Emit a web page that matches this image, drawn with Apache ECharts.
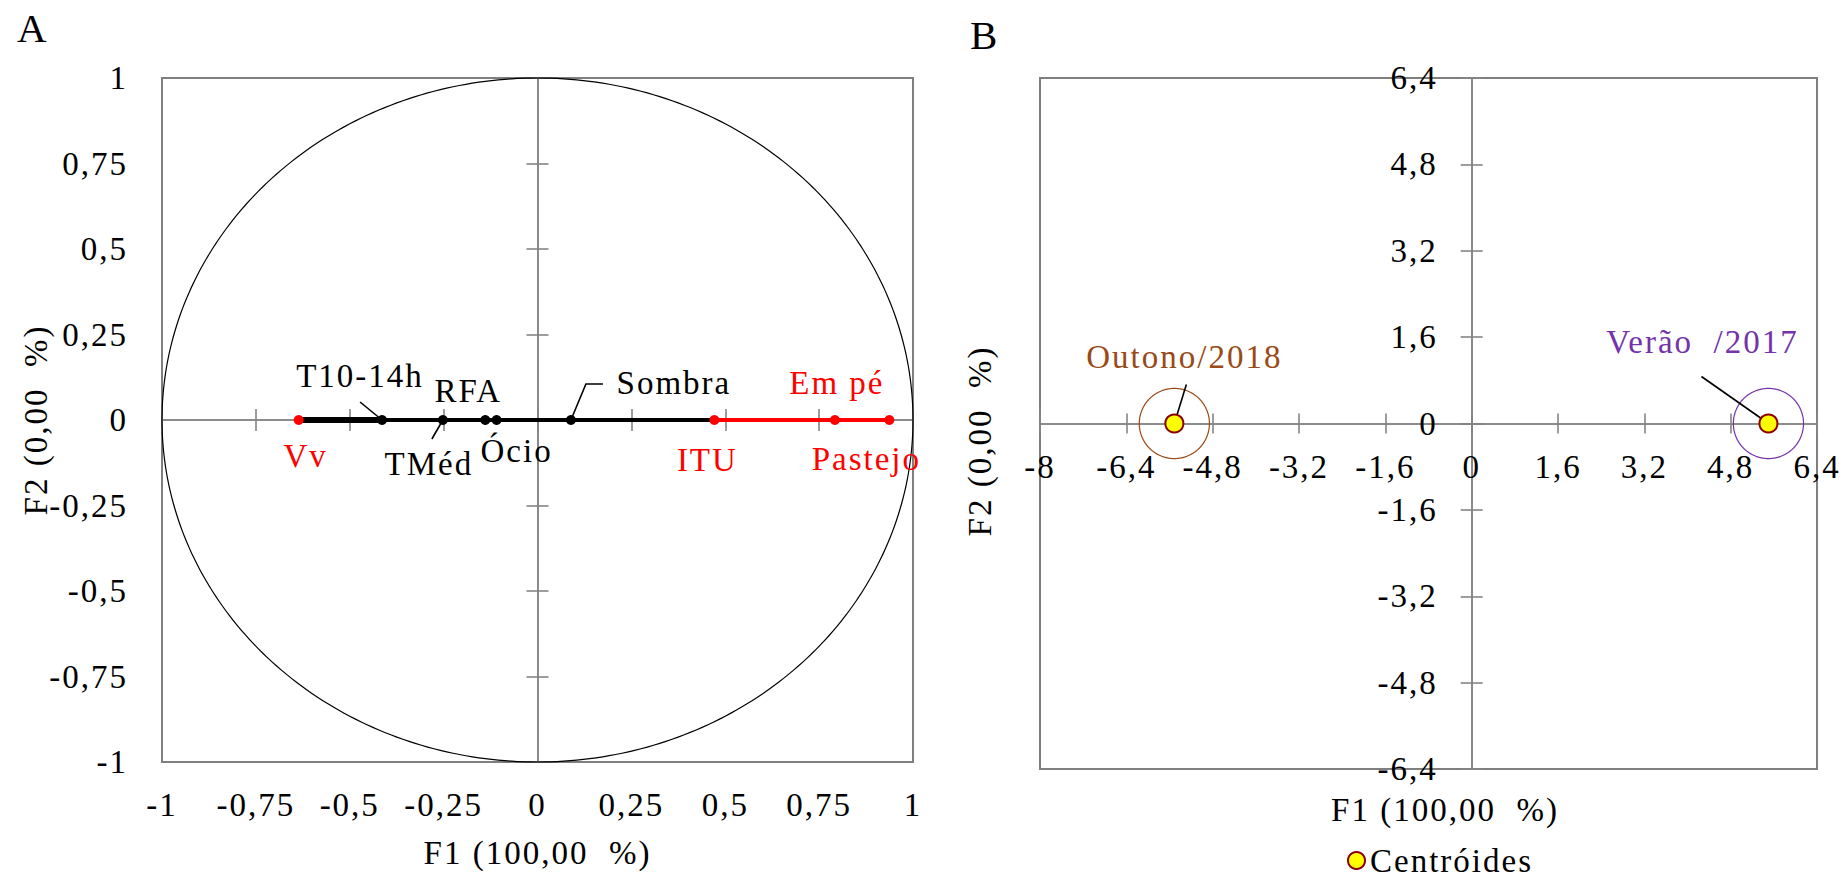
<!DOCTYPE html>
<html>
<head>
<meta charset="utf-8">
<title>ACP – F1 x F2</title>
<script src="https://cdn.jsdelivr.net/npm/echarts@6/dist/echarts.min.js"></script>
<style>
  html, body { margin: 0; padding: 0; background: #fff; }
  #chart { width: 1844px; height: 878px; }
  /* texto levemente espaçado, como na figura original em Times */
  #chart svg text { letter-spacing: 2px; }
</style>
</head>
<body>
<div id="chart"></div>
<script>
// ---------- Painel A: círculo de correlações ----------
const variaveis = ['Vv', 'T10-14h', 'TMéd', 'RFA', 'Ócio', 'Sombra', 'ITU', 'Em pé', 'Pastejo'];
const cargaF1   = [-0.636, -0.414, -0.252, -0.139, -0.109, 0.089, 0.471, 0.792, 0.937];
const cargaF2   = [0, 0, 0, 0, 0, 0, 0, 0, 0];
const ativa     = [true, false, false, false, false, false, true, true, true];
const raioCirculo = 1;
const ticksA = [-1, -0.75, -0.5, -0.25, 0, 0.25, 0.5, 0.75, 1];

// ---------- Painel B: centróides das estações ----------
const grupos     = ['Outono/2018', 'Verão  /2017'];
const centroF1   = [-5.51, 5.50];
const centroF2   = [0, 0];
const raioConf   = [0.65, 0.65];
const ticksBx = [-8, -6.4, -4.8, -3.2, -1.6, 0, 1.6, 3.2, 4.8, 6.4];
const ticksBy = [-6.4, -4.8, -3.2, -1.6, 0, 1.6, 3.2, 4.8, 6.4];

// ---------- estilo ----------
const SERIF = '"Liberation Serif", "Times New Roman", serif';
const FS = 33;
const CINZA = '#858585';
const VERMELHO = '#ff0000';
const corGrupo = ['#994a17', '#7433a8'];

// deslocamento (px) de cada rótulo em relação ao seu ponto
const rotuloA = {
  'Vv': [7, 36], 'T10-14h': [-22, -44], 'TMéd': [-14, 44], 'RFA': [-17, -29],
  'Ócio': [20, 31], 'Sombra': [103, -37], 'ITU': [-7, 40], 'Em pé': [2, -37], 'Pastejo': [-23, 39]
};
const rotuloB = { 'Outono/2018': [10, -67], 'Verão  /2017': [-66, -82] };
// linhas de chamada: vértices (px) relativos ao ponto
const guiaA = {
  'T10-14h': [[-22, -18], [0, 0]],
  'TMéd': [[-11, 19], [0, 0]],
  'Sombra': [[32, -36], [15, -36], [0, 0]]
};
const guiaB = {
  'Outono/2018': [[12, -39], [0, 0]],
  'Verão  /2017': [[-67, -47], [0, 0]]
};

// área de plotagem de cada painel
const areaA = { left: 162, top: 78, width: 751, height: 684 };
const areaB = { left: 1040, top: 78, width: 777, height: 691 };

const ultimo = t => t[t.length - 1];
const passo = t => +(t[1] - t[0]).toFixed(6);
const fmt = v => String(+(+v).toFixed(4)).replace('.', ',');
const texto = (extra) => Object.assign({ fontFamily: SERIF, fontSize: FS, color: '#000' }, extra || {});

function eixo(gridIndex, ticks, cfg) {
  return Object.assign({
    type: 'value', gridIndex,
    min: ticks[0], max: ultimo(ticks), interval: passo(ticks),
    splitLine: { show: false },
    axisLabel: { show: false },
    axisTick: { show: false },
    axisLine: { show: false, onZero: false },
    nameMoveOverlap: false
  }, cfg);
}
// eixo que passa pela origem do outro eixo
const linhaCruz = { show: true, onZero: true, lineStyle: { color: CINZA, width: 1.6 } };
const tique = (inside, len) => ({ show: true, inside, length: len, lineStyle: { color: CINZA, width: 1.6 } });
const rotulosEixo = (margin) => Object.assign({ show: true, margin, formatter: fmt }, texto());

// No painel B os rótulos ficam junto aos eixos que passam pela origem:
// usa-se uma grade auxiliar cuja borda coincide com o zero de cada eixo.
const fracY0 = ultimo(ticksBy) / (ultimo(ticksBy) - ticksBy[0]);
const fracX0 = (0 - ticksBx[0]) / (ultimo(ticksBx) - ticksBx[0]);
const gradeRotX = { left: areaB.left, top: areaB.top, width: areaB.width, height: areaB.height * fracY0 };
const gradeRotY = { left: areaB.left + areaB.width * fracX0, top: areaB.top,
  width: areaB.width * (1 - fracX0), height: areaB.height };
const metadeX = ticksBx.filter(v => v >= 0);
const metadeY = ticksBy.filter(v => v >= 0);

const xAxis = [
  // 0: rótulos e título do painel A (na borda inferior)
  eixo(0, ticksA, { position: 'bottom', axisLabel: rotulosEixo(26),
    name: 'F1 (100,00  %)', nameLocation: 'middle', nameGap: 74, nameTextStyle: texto() }),
  // 1-2: eixo horizontal cruzando a origem (A)
  eixo(0, ticksA, { position: 'bottom', axisLine: linhaCruz, axisTick: tique(false, 11) }),
  eixo(0, ticksA, { position: 'bottom', axisLine: linhaCruz, axisTick: tique(true, 11) }),
  // 3-4: eixo horizontal cruzando a origem (B)
  eixo(1, ticksBx, { position: 'bottom', axisLine: linhaCruz, axisTick: tique(false, 10) }),
  eixo(1, ticksBx, { position: 'bottom', axisLine: linhaCruz, axisTick: tique(true, 10) }),
  // 5: título do painel B
  eixo(1, ticksBx, { position: 'bottom', name: 'F1 (100,00  %)', nameLocation: 'middle', nameGap: 24,
    nameTextStyle: texto({ padding: [0, 0, 0, 33] }) }),
  // 6: rótulos de F1 no painel B (grade auxiliar 2)
  eixo(2, ticksBx, { position: 'bottom', axisLabel: rotulosEixo(27) }),
  // 7: auxiliar da grade 3
  eixo(3, metadeX, { position: 'bottom' })
];
const yAxis = [
  eixo(0, ticksA, { position: 'left', axisLabel: rotulosEixo(34),
    name: 'F2 (0,00  %)', nameLocation: 'middle', nameGap: 110, nameTextStyle: texto() }),
  eixo(0, ticksA, { position: 'left', axisLine: linhaCruz, axisTick: tique(false, 11) }),
  eixo(0, ticksA, { position: 'left', axisLine: linhaCruz, axisTick: tique(true, 11) }),
  eixo(1, ticksBy, { position: 'left', axisLine: linhaCruz, axisTick: tique(false, 11) }),
  eixo(1, ticksBy, { position: 'left', axisLine: linhaCruz, axisTick: tique(true, 11) }),
  eixo(1, ticksBy, { position: 'left', name: 'F2 (0,00  %)', nameLocation: 'middle', nameGap: 44,
    nameTextStyle: texto({ padding: [0, 35, 0, 0] }) }),
  // 6: auxiliar da grade 2
  eixo(2, metadeY, { position: 'left' }),
  // 7: rótulos de F2 no painel B (grade auxiliar 3)
  eixo(3, ticksBy, { position: 'left', axisLabel: rotulosEixo(34) })
];

const idx = n => variaveis.indexOf(n);
const ponto = n => [cargaF1[idx(n)], cargaF2[idx(n)]];
const xsAtivas = cargaF1.filter((v, i) => ativa[i]);

function pontosA(flag, cor) {
  return variaveis.map((n, i) => i).filter(i => ativa[i] === flag).map(i => ({
    name: variaveis[i],
    value: [cargaF1[i], cargaF2[i]],
    label: { offset: rotuloA[variaveis[i]], color: cor }
  }));
}

function guias(nomes, xs, ys, specs, xi, yi) {
  const data = nomes.map((n, i) => [xs[i], ys[i], i]).filter(d => specs[nomes[d[2]]]);
  return {
    type: 'custom', xAxisIndex: xi, yAxisIndex: yi, silent: true, z: 3, data,
    renderItem(params, api) {
      const p = api.coord([api.value(0), api.value(1)]);
      const spec = specs[nomes[api.value(2)]];
      return {
        type: 'polyline',
        shape: { points: spec.map(o => [p[0] + o[0], p[1] + o[1]]) },
        style: { stroke: '#000', lineWidth: 1.6, fill: null }
      };
    }
  };
}

function circulo(data, xi, yi, cores, largura) {
  return {
    type: 'custom', xAxisIndex: xi, yAxisIndex: yi, silent: true, z: 2, data,
    renderItem(params, api) {
      const cx = api.value(0), cy = api.value(1), r = api.value(2);
      const pts = [];
      for (let k = 0; k <= 360; k++) {
        const t = k * Math.PI / 180;
        pts.push(api.coord([cx + r * Math.cos(t), cy + r * Math.sin(t)]));
      }
      return { type: 'polyline', shape: { points: pts },
        style: { stroke: cores[params.dataIndex % cores.length], lineWidth: largura, fill: null } };
    }
  };
}

// rótulo centrado no ponto e depois deslocado por "offset"
const labelBase = Object.assign({ show: true, position: ['50%', '50%'], align: 'center',
  verticalAlign: 'middle', opacity: 1, formatter: p => p.name }, texto());

const titulo = (t, left, top) => ({ text: t, left, top, padding: 0,
  textStyle: { fontFamily: SERIF, fontSize: 41, fontWeight: 'normal', color: '#000' } });
const grade = g => Object.assign({ show: false, containLabel: false, outerBoundsMode: 'none' }, g);
const moldura = { show: true, borderColor: '#7f7f7f', borderWidth: 2, backgroundColor: 'transparent' };

const option = {
  animation: false,
  backgroundColor: '#fff',
  title: [titulo('A', 17, 7), titulo('B', 970, 14)],
  grid: [
    grade(Object.assign({}, areaA, moldura)),
    grade(Object.assign({}, areaB, moldura)),
    grade(gradeRotX),
    grade(gradeRotY)
  ],
  legend: {
    data: ['Centróides'], left: 1347, top: 844, padding: 0, icon: 'circle',
    itemWidth: 17, itemHeight: 17, textStyle: texto({ lineHeight: 28 }), selectedMode: false
  },
  xAxis, yAxis,
  series: [
    circulo([[0, 0, raioCirculo]], 0, 0, ['#000'], 1.2),
    { type: 'line', xAxisIndex: 0, yAxisIndex: 0, silent: true, symbol: 'none', z: 2,
      data: [[Math.min(...xsAtivas), 0], [Math.max(...xsAtivas), 0]],
      lineStyle: { color: VERMELHO, width: 4 } },
    { type: 'line', xAxisIndex: 0, yAxisIndex: 0, silent: true, symbol: 'none', z: 2,
      data: [ponto('Vv'), ponto('ITU')], lineStyle: { color: '#000', width: 4 } },
    { type: 'line', xAxisIndex: 0, yAxisIndex: 0, silent: true, symbol: 'none', z: 2,
      data: [ponto('Vv'), ponto('T10-14h')], lineStyle: { color: '#000', width: 6 } },
    guias(variaveis, cargaF1, cargaF2, guiaA, 0, 0),
    { type: 'scatter', name: 'Variáveis suplementares', xAxisIndex: 0, yAxisIndex: 0, z: 4,
      symbolSize: 10, itemStyle: { color: '#000', opacity: 1 }, label: labelBase,
      data: pontosA(false, '#000') },
    { type: 'scatter', name: 'Variáveis ativas', xAxisIndex: 0, yAxisIndex: 0, z: 4,
      symbolSize: 10, itemStyle: { color: VERMELHO, opacity: 1 }, label: labelBase,
      data: pontosA(true, VERMELHO) },

    circulo(grupos.map((g, i) => [centroF1[i], centroF2[i], raioConf[i]]), 3, 3, corGrupo, 1.2),
    guias(grupos, centroF1, centroF2, guiaB, 3, 3),
    { type: 'scatter', name: 'Centróides', xAxisIndex: 3, yAxisIndex: 3, z: 4,
      symbolSize: 18, itemStyle: { color: '#ffff00', borderColor: '#8b0000', borderWidth: 2, opacity: 1 },
      label: labelBase,
      data: grupos.map((g, i) => ({
        name: g, value: [centroF1[i], centroF2[i]],
        label: { offset: rotuloB[g], color: corGrupo[i] }
      })) }
  ]
};

const chart = echarts.init(document.getElementById('chart'), null, { renderer: 'svg' });
chart.setOption(option);
</script>
</body>
</html>
